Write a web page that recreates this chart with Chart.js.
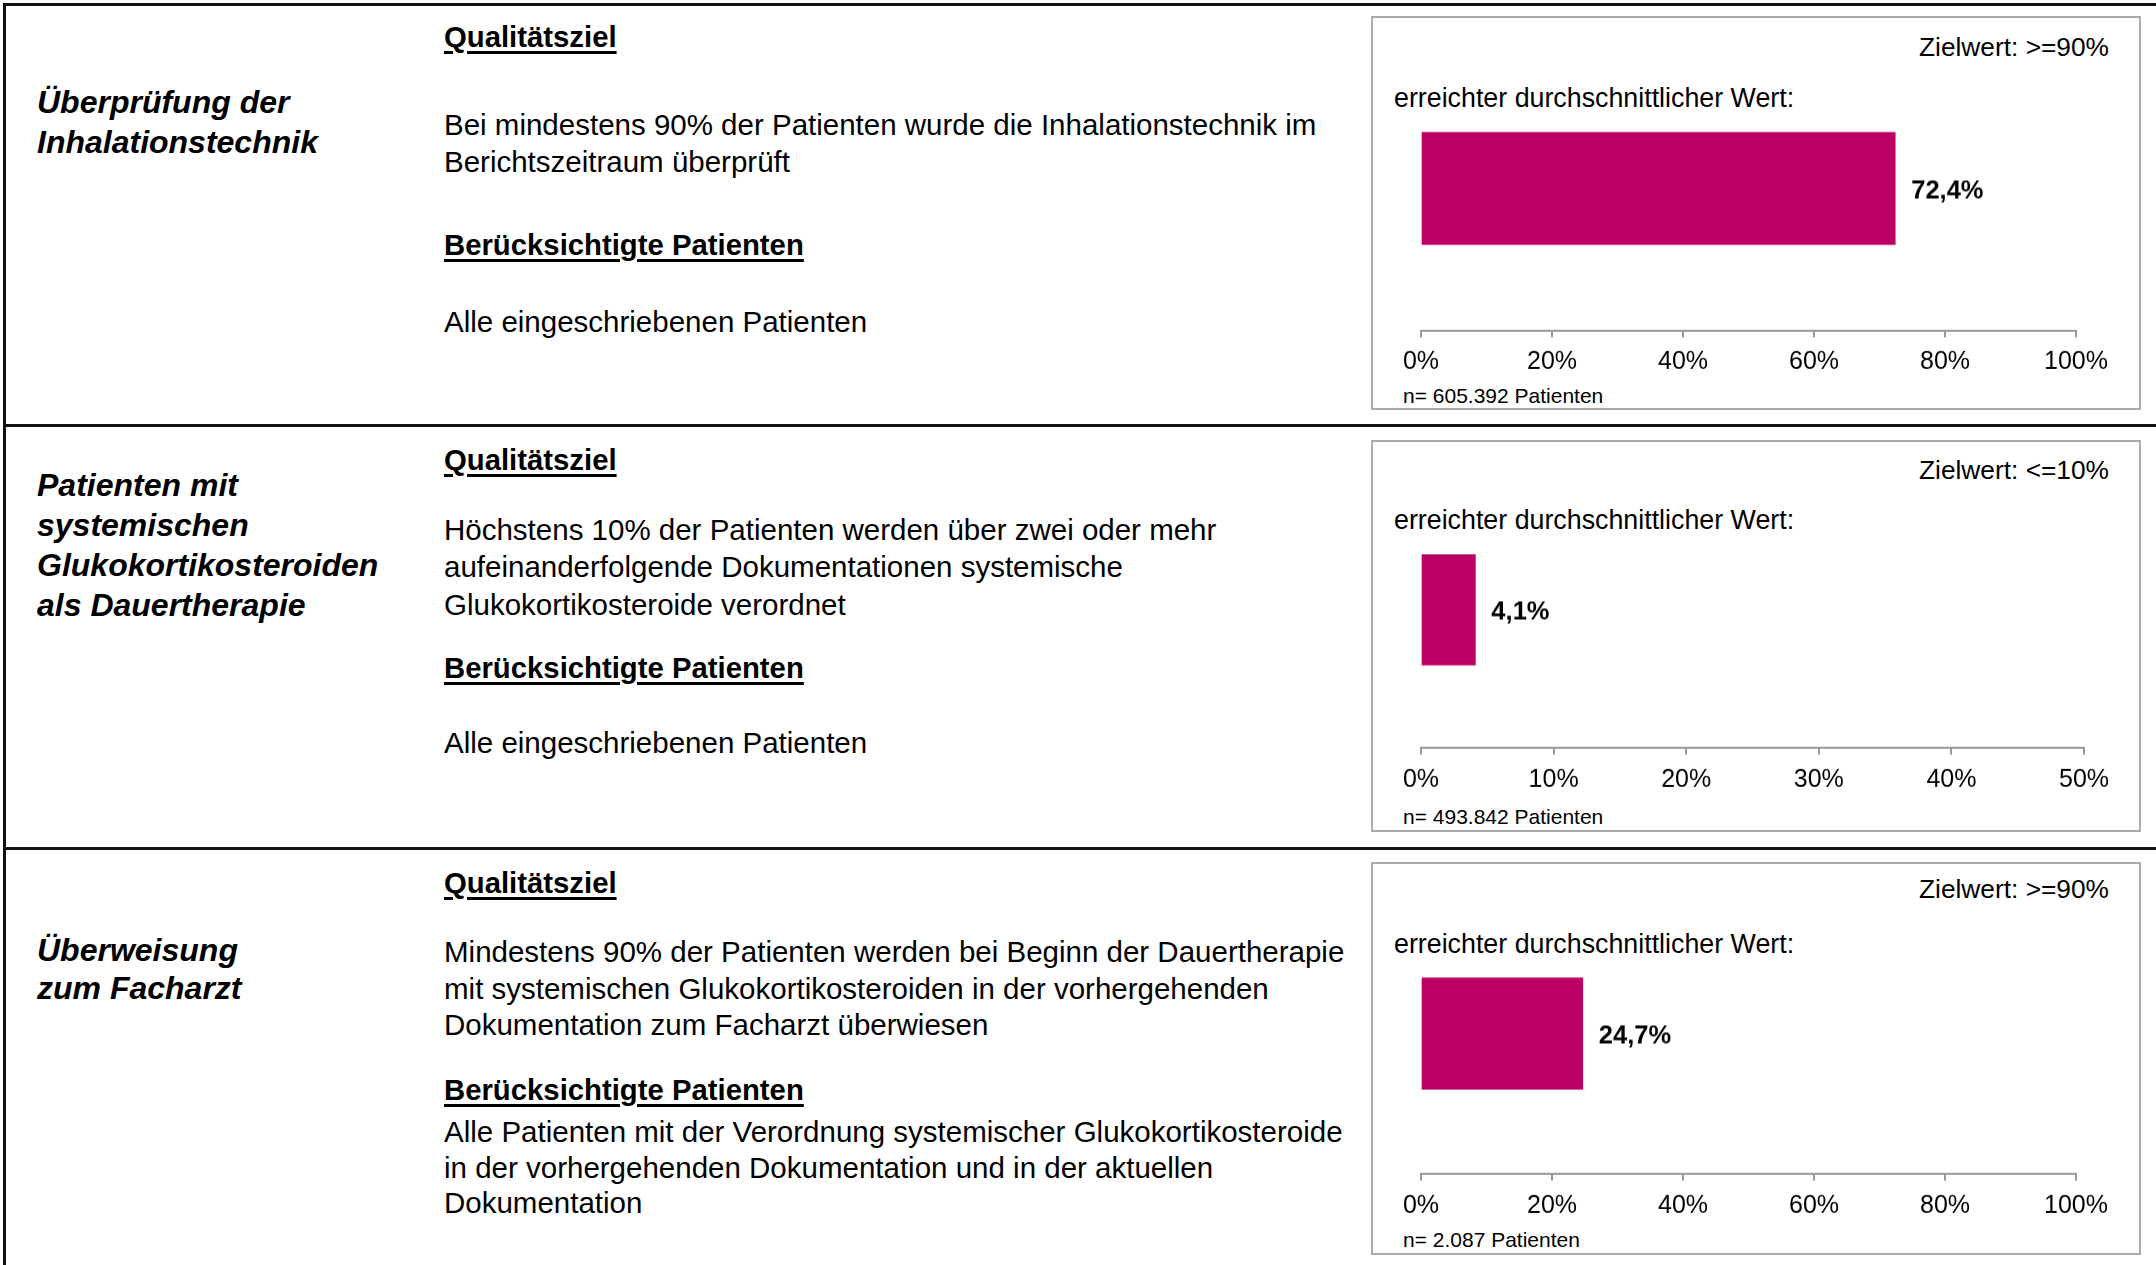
<!DOCTYPE html>
<html lang="de">
<head>
<meta charset="utf-8">
<title>Qualitätsindikatoren</title>
<script src="https://cdn.jsdelivr.net/npm/chart.js@4.4.1/dist/chart.umd.min.js"></script>
<style>
  body { margin:0; width:2156px; height:1265px; background:#fff; overflow:hidden; position:relative;
         font-family:"Liberation Sans", Arial, sans-serif; color:#000; }
  .hline { position:absolute; left:3px; width:2153px; height:3px; background:#111; }
  .vline { position:absolute; left:3px; top:3px; width:3px; height:1262px; background:#111; }
  .titel { position:absolute; left:37px; font-weight:bold; font-style:italic; font-size:32px; line-height:40px; white-space:nowrap; }
  .kopf { position:absolute; left:444px; font-weight:bold; font-size:29.3px; line-height:37px; white-space:nowrap;
          text-decoration:underline; text-decoration-thickness:3px; text-underline-offset:4px; }
  .text { position:absolute; left:444px; font-size:29.5px; line-height:37px; white-space:nowrap; }
  .box { position:absolute; left:1371px; width:770px; box-sizing:border-box; border:2px solid #ababab; }
  .plot { position:absolute; left:1371px; width:770px; }
  .ziel { position:absolute; right:47px; font-size:26.3px; line-height:30px; white-space:nowrap; }
  .wert { position:absolute; left:1394px; font-size:26.8px; line-height:30px; white-space:nowrap; }
  .anz { position:absolute; left:1403px; font-size:21px; line-height:24px; white-space:nowrap; }
</style>
</head>
<body>

<div class="hline" style="top:3px"></div>
<div class="hline" style="top:424px"></div>
<div class="hline" style="top:847px"></div>
<div class="vline"></div>

<!-- Zeile 1 -->
<div class="titel" style="top:82px">Überprüfung der<br>Inhalationstechnik</div>
<div class="kopf" style="top:18px">Qualitätsziel</div>
<div class="text" style="top:106px">Bei mindestens 90% der Patienten wurde die Inhalationstechnik im<br>Berichtszeitraum überprüft</div>
<div class="kopf" style="top:226px">Berücksichtigte Patienten</div>
<div class="text" style="top:303px">Alle eingeschriebenen Patienten</div>

<!-- Zeile 2 -->
<div class="titel" style="top:465px">Patienten mit<br>systemischen<br>Glukokortikosteroiden<br>als Dauertherapie</div>
<div class="kopf" style="top:441px">Qualitätsziel</div>
<div class="text" style="top:511px; line-height:37.3px">Höchstens 10% der Patienten werden über zwei oder mehr<br>aufeinanderfolgende Dokumentationen systemische<br>Glukokortikosteroide verordnet</div>
<div class="kopf" style="top:649px">Berücksichtigte Patienten</div>
<div class="text" style="top:724px">Alle eingeschriebenen Patienten</div>

<!-- Zeile 3 -->
<div class="titel" style="top:931px; line-height:38px">Überweisung<br>zum Facharzt</div>
<div class="kopf" style="top:864px">Qualitätsziel</div>
<div class="text" style="top:934px; line-height:36.5px">Mindestens 90% der Patienten werden bei Beginn der Dauertherapie<br>mit systemischen Glukokortikosteroiden in der vorhergehenden<br>Dokumentation zum Facharzt überwiesen</div>
<div class="kopf" style="top:1071px">Berücksichtigte Patienten</div>
<div class="text" style="top:1114px; line-height:35.5px">Alle Patienten mit der Verordnung systemischer Glukokortikosteroide<br>in der vorhergehenden Dokumentation und in der aktuellen<br>Dokumentation</div>

<script>
// Daten
const indikatoren = ['Überprüfung der Inhalationstechnik', 'Patienten mit systemischen Glukokortikosteroiden als Dauertherapie', 'Überweisung zum Facharzt'];
const werte = [72.4, 4.1, 24.7];
const zielwerte = ['>=90%', '<=10%', '>=90%'];
const achsenMax = [100, 50, 100];
const tickSchritte = [20, 10, 20];
const patienten = ['605.392', '493.842', '2.087'];

// Layout der drei Kästen (Seitenkoordinaten)
const boxOben = [16, 440, 862];
const boxHoehe = [394, 392, 393];
const achseY = [329.5, 746.7, 1172.7];
const balkenMitte = [188, 609.3, 1033.2];
const balkenDicke = [112, 110, 111];
const achseRechts = [2076, 2084, 2076];
const zielY = [32, 454.6, 873.6];
const wertY = [83.3, 505.3, 928.6];
const anzY = [383.7, 805, 1228];

Chart.defaults.font.family = '"Liberation Sans", Arial, sans-serif';
Chart.defaults.color = '#000';

const wertLabel = {
    id: 'wertLabel',
    afterDatasetsDraw(chart) {
        const ctx = chart.ctx;
        const meta = chart.getDatasetMeta(0);
        ctx.save();
        ctx.font = 'bold 25.5px "Liberation Sans", Arial, sans-serif';
        ctx.fillStyle = '#000';
        ctx.textBaseline = 'middle';
        ctx.textAlign = 'left';
        meta.data.forEach(function (bar, i) {
            const v = chart.data.datasets[0].data[i];
            ctx.fillText(v.toFixed(1).replace('.', ',') + '%', bar.x + 16, bar.y + 3);
        });
        ctx.restore();
    }
};

function add(cls, top, html, extra) {
    const d = document.createElement('div');
    d.className = cls;
    d.style.top = top + 'px';
    if (extra) d.style.cssText += extra;
    d.innerHTML = html;
    document.body.appendChild(d);
    return d;
}

for (let i = 0; i < werte.length; i++) {
    add('box', boxOben[i], '', 'height:' + boxHoehe[i] + 'px');
    add('ziel', zielY[i], 'Zielwert: ' + zielwerte[i].replace('<', '&lt;').replace('>', '&gt;'));
    add('wert', wertY[i], 'erreichter durchschnittlicher Wert:');
    add('anz', anzY[i], 'n= ' + patienten[i] + ' Patienten');

    const skalaHoehe = 80;
    const wrap = add('plot', boxOben[i], '', 'height:' + (achseY[i] - boxOben[i] + skalaHoehe) + 'px');
    const canvas = document.createElement('canvas');
    wrap.appendChild(canvas);

    const flaecheOben = 2 * balkenMitte[i] - achseY[i];

    new Chart(canvas, {
        type: 'bar',
        data: {
            labels: [indikatoren[i]],
            datasets: [{
                data: [werte[i]],
                backgroundColor: '#bb0063',
                borderWidth: 0,
                barThickness: balkenDicke[i]
            }]
        },
        options: {
            indexAxis: 'y',
            responsive: true,
            maintainAspectRatio: false,
            animation: false,
            layout: {
                padding: { top: flaecheOben - boxOben[i], left: 50, right: 770 - (achseRechts[i] - 1371), bottom: 0 }
            },
            plugins: {
                legend: { display: false },
                tooltip: { enabled: false }
            },
            scales: {
                x: {
                    min: 0,
                    max: achsenMax[i],
                    position: 'bottom',
                    afterFit: function (scale) { scale.height = skalaHoehe; },
                    grid: { drawOnChartArea: false, drawTicks: true, tickLength: 7, color: '#999', lineWidth: 2 },
                    border: { display: true, color: '#999', width: 2 },
                    ticks: {
                        stepSize: tickSchritte[i],
                        padding: 10,
                        color: '#000',
                        font: { size: 25 },
                        maxRotation: 0,
                        autoSkip: false,
                        callback: function (v) { return v + '%'; }
                    }
                },
                y: { display: false }
            }
        },
        plugins: [wertLabel]
    });
}
</script>
</body>
</html>
